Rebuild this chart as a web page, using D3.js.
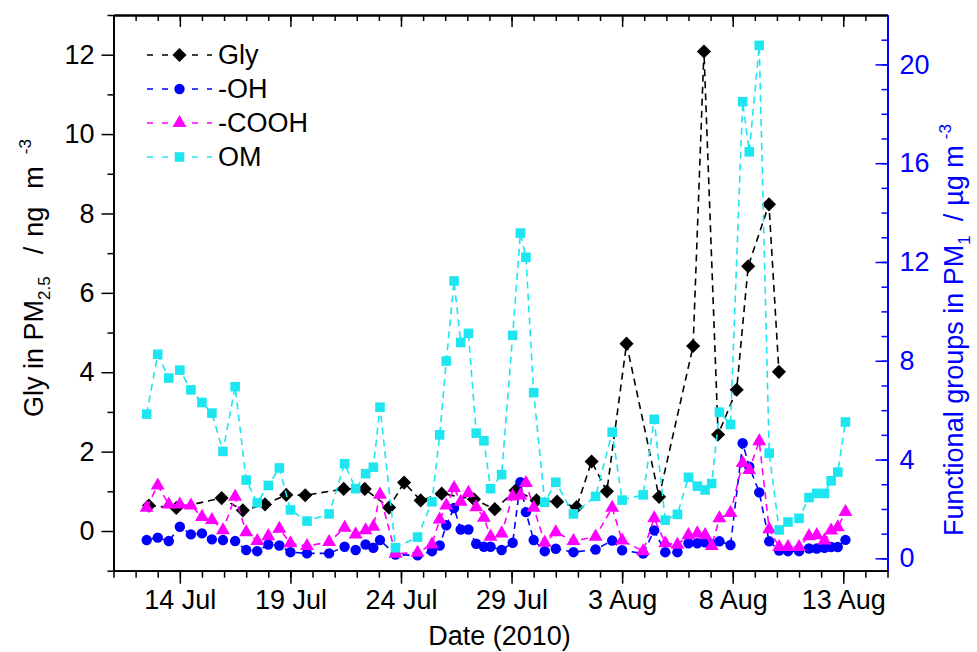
<!DOCTYPE html>
<html>
<head>
<meta charset="utf-8">
<script src="https://cdn.jsdelivr.net/npm/d3@7"></script>
<style>
  body { margin: 0; background: #fff; }
  text { font-family: "Liberation Sans", Arial, sans-serif; }
</style>
</head>
<body>
<div class="chart"></div>
<script>
// Sampling times as day of July 2010 (1 Aug = 32), functional groups + OM
const fgDays = [12.5, 13.0, 13.5, 14.0, 14.5, 15.0, 15.45, 15.95, 16.5, 17.0, 17.5, 18.0, 18.5, 19.0, 19.75, 20.75,
  21.45, 21.95, 22.4, 22.75, 23.05, 23.75, 24.75, 25.4, 25.75, 26.05, 26.4, 26.7, 27.05, 27.4, 27.75, 28.05, 28.55,
  29.05, 29.4, 29.65, 30.0, 30.5, 31.0, 31.8, 32.8, 33.55, 34.0, 34.95, 35.45, 35.95, 36.5, 37.0, 37.4, 37.75, 38.05,
  38.4, 38.9, 39.45, 39.75, 40.2, 40.65, 41.1, 41.5, 42.0, 42.45, 42.8, 43.15, 43.45, 43.75, 44.1];

// right axis, ug m-3
const ohValues = [0.74, 0.84, 0.70, 1.28, 0.97, 1.01, 0.77, 0.74, 0.70, 0.34, 0.29, 0.56, 0.52, 0.25, 0.20, 0.20,
  0.47, 0.34, 0.56, 0.43, 0.74, 0.15, 0.12, 0.29, 0.52, 1.34, 2.04, 1.17, 1.17, 0.59, 0.47, 0.47, 0.34,
  0.63, 3.08, 1.87, 0.74, 0.29, 0.39, 0.25, 0.36, 0.72, 0.33, 0.19, 1.13, 0.25, 0.25, 0.61, 0.61, 0.65, 0.58,
  0.69, 0.54, 4.66, 3.71, 2.67, 0.69, 0.32, 0.29, 0.29, 0.40, 0.40, 0.43, 0.46, 0.46, 0.75];

const coohValues = [2.05, 2.95, 2.18, 2.18, 2.14, 1.68, 1.55, 1.14, 2.49, 1.06, 0.70, 0.90, 1.20, 0.61, 0.50, 0.66,
  1.24, 0.97, 1.14, 1.28, 2.58, 0.19, 0.23, 0.56, 1.57, 2.14, 2.85, 2.29, 2.65, 2.07, 1.64, 0.88, 1.01,
  2.51, 2.55, 3.05, 2.05, 0.63, 1.06, 0.70, 0.88, 2.05, 0.72, 0.29, 1.62, 0.61, 0.55, 0.94, 1.01, 0.94, 0.50,
  1.62, 1.84, 3.86, 3.58, 4.74, 1.18, 0.46, 0.46, 0.46, 0.90, 0.94, 0.72, 1.13, 1.26, 1.88];

const omValues = [5.84, 8.26, 7.30, 7.62, 6.82, 6.31, 5.88, 4.33, 6.95, 3.17, 2.25, 2.95, 3.66, 1.96, 1.51, 1.80,
  3.83, 2.82, 3.43, 3.69, 6.12, 0.43, 0.86, 2.29, 5.00, 7.99, 11.23, 8.74, 9.11, 5.07, 4.76, 2.82, 3.39,
  9.03, 13.17, 12.19, 6.71, 2.27, 3.08, 1.80, 2.51, 5.11, 2.36, 2.57, 5.63, 1.55, 1.78, 3.28, 2.92, 2.77, 3.03,
  5.92, 5.42, 18.49, 16.46, 20.77, 4.26, 1.15, 1.47, 1.62, 2.46, 2.63, 2.63, 3.14, 3.49, 5.52];

// Glyoxal (left axis, ng m-3)
const glyDays = [12.6, 13.84, 15.89, 16.85, 17.85, 18.81, 19.67, 21.41, 22.36, 23.46, 24.14, 24.89, 25.84, 27.3,
  28.24, 29.18, 30.13, 31.06, 31.94, 32.62, 33.31, 34.2, 35.67, 37.21, 37.7, 38.34, 39.18, 39.7, 40.64, 41.09];
const glyValues = [0.64, 0.58, 0.83, 0.52, 0.67, 0.91, 0.90, 1.06, 1.06, 0.59, 1.22, 0.77, 0.94, 0.80,
  0.55, 1.02, 0.77, 0.74, 0.60, 1.75, 1.00, 4.72, 0.86, 4.66, 12.08, 2.43, 3.56, 6.67, 8.23, 4.01];

const xTickDays = [14, 19, 24, 29, 34, 39, 44];
const xTickLabels = ["14 Jul", "19 Jul", "24 Jul", "29 Jul", "3 Aug", "8 Aug", "13 Aug"];
const leftTicks = [0, 2, 4, 6, 8, 10, 12];
const rightTicks = [0, 4, 8, 12, 16, 20];

const W = 977, H = 652;
const margin = { top: 15, right: 89.5, bottom: 81.3, left: 113.5 };
const plotW = W - margin.left - margin.right;
const plotH = H - margin.top - margin.bottom;

const BLUE = "#0000ff", MAGENTA = "#ff00ff", CYAN = "#1ee6f0";
const FONT = "27px";

const day0 = new Date(2010, 6, 1).getTime();
const toDate = d => new Date(day0 + (d - 1) * 864e5);

const svg = d3.select(".chart").append("svg").attr("width", W).attr("height", H);
const g = svg.append("g").attr("transform", `translate(${margin.left},${margin.top})`);

const x = d3.scaleTime().domain([toDate(11), toDate(46)]).range([0, plotW]);
const yL = d3.scaleLinear().domain([-1, 13]).range([plotH, 0]);
const yR = d3.scaleLinear().domain([-0.5, 22]).range([plotH, 0]);

// axes
function styleAxis(sel, color) {
  sel.selectAll("path.domain").attr("stroke", color).attr("stroke-width", 1.8);
  sel.selectAll(".tick line").attr("stroke", color).attr("stroke-width", 1.5);
  sel.selectAll(".tick text").attr("fill", color).style("font-size", FONT)
    .style("font-family", '"Liberation Sans", Arial, sans-serif');
}

const minorDays = d3.timeDay.range(toDate(11), toDate(46.5));

// bottom
g.append("g").attr("transform", `translate(0,${plotH})`)
  .call(d3.axisBottom(x).tickValues(minorDays).tickSize(7).tickSizeOuter(0).tickFormat(""))
  .call(s => styleAxis(s, "#000"));
g.append("g").attr("transform", `translate(0,${plotH})`)
  .call(d3.axisBottom(x).tickValues(xTickDays.map(toDate)).tickSize(13).tickSizeOuter(0)
    .tickPadding(6).tickFormat((d, i) => xTickLabels[i]))
  .call(s => styleAxis(s, "#000"));

// top (mirror, ticks inward)
g.append("g")
  .call(d3.axisTop(x).tickValues(minorDays).tickSize(-6).tickSizeOuter(0).tickFormat(""))
  .call(s => styleAxis(s, "#000"));
g.append("g")
  .call(d3.axisTop(x).tickValues(xTickDays.map(toDate)).tickSize(-12).tickSizeOuter(0).tickFormat(""))
  .call(s => styleAxis(s, "#000"));

// left
g.append("g")
  .call(d3.axisLeft(yL).tickValues(d3.range(-1, 14, 2)).tickSize(6).tickSizeOuter(0).tickFormat(""))
  .call(s => styleAxis(s, "#000"));
g.append("g")
  .call(d3.axisLeft(yL).tickValues(leftTicks).tickSize(12).tickSizeOuter(0).tickPadding(7))
  .call(s => styleAxis(s, "#000"));

// right (blue, ticks inward)
g.append("g").attr("transform", `translate(${plotW},0)`)
  .call(d3.axisRight(yR).tickValues(d3.range(0, 22)).tickSize(-6).tickSizeOuter(0).tickFormat(""))
  .call(s => styleAxis(s, BLUE));
g.append("g").attr("transform", `translate(${plotW},0)`)
  .call(d3.axisRight(yR).tickValues(rightTicks).tickSize(-12).tickSizeOuter(0).tickPadding(12))
  .call(s => styleAxis(s, BLUE));

// axis titles
svg.append("text")
  .attr("x", margin.left + plotW / 2 - 1).attr("y", 645)
  .attr("text-anchor", "middle").style("font-size", FONT)
  .text("Date (2010)");

const lt = svg.append("text")
  .attr("transform", "translate(43,278) rotate(-90)")
  .attr("text-anchor", "middle").style("font-size", FONT);
lt.append("tspan").text("Gly in PM");
lt.append("tspan").attr("dy", 7).style("font-size", "17px").text("2.5");
lt.append("tspan").attr("dy", -7).attr("dx", 22).text("/");
lt.append("tspan").attr("dx", 10).text("ng");
lt.append("tspan").attr("dx", 18).text("m");
lt.append("tspan").attr("dy", -12).attr("dx", 12).style("font-size", "17px").text("-3");

const rt = svg.append("text")
  .attr("transform", "translate(963,330) rotate(-90)")
  .attr("text-anchor", "middle").attr("fill", BLUE).style("font-size", FONT);
rt.append("tspan").text("Functional groups in PM");
rt.append("tspan").attr("dy", 7).style("font-size", "17px").text("1");
rt.append("tspan").attr("dy", -7).attr("dx", 14).text("/");
rt.append("tspan").attr("dx", 8).text("\u00b5g m");
rt.append("tspan").attr("dy", -12).attr("dx", 6).style("font-size", "17px").text("-3");

// series
const series = [
  { name: "Gly", days: glyDays, values: glyValues, y: yL, color: "#000", shape: "diamond" },
  { name: "-OH", days: fgDays, values: ohValues, y: yR, color: BLUE, shape: "circle" },
  { name: "-COOH", days: fgDays, values: coohValues, y: yR, color: MAGENTA, shape: "triangle" },
  { name: "OM", days: fgDays, values: omValues, y: yR, color: CYAN, shape: "square" }
];

const symbolPath = {
  diamond: d3.symbol(d3.symbolSquare, 100)(),
  circle: d3.symbol(d3.symbolCircle, 85)(),
  triangle: d3.symbol(d3.symbolTriangle, 84)(),
  square: d3.symbol(d3.symbolSquare, 92)()
};
const symbolRot = { diamond: 45, circle: 0, triangle: 0, square: 0 };

const DASH = "7,5";

series.forEach(s => {
  const pts = s.days.map((d, i) => ({ date: toDate(d), v: s.values[i] }));
  const line = d3.line().x(d => x(d.date)).y(d => s.y(d.v));
  g.append("path").datum(pts)
    .attr("d", line).attr("fill", "none")
    .attr("stroke", s.color).attr("stroke-width", 1.6)
    .attr("stroke-dasharray", DASH);
  g.append("g").selectAll("path").data(pts).join("path")
    .attr("d", symbolPath[s.shape])
    .attr("transform", d => `translate(${x(d.date)},${s.y(d.v)}) rotate(${symbolRot[s.shape]})`)
    .attr("fill", s.color);
});

// legend
const legend = svg.append("g").attr("class", "legend");
series.forEach((s, i) => {
  const ly = 55 + i * 34;
  legend.append("line").attr("x1", 147).attr("x2", 212).attr("y1", ly).attr("y2", ly)
    .attr("stroke", s.color).attr("stroke-width", 1.6).attr("stroke-dasharray", "6,9");
  legend.append("path").attr("d", symbolPath[s.shape])
    .attr("transform", `translate(179.5,${ly}) rotate(${symbolRot[s.shape]})`)
    .attr("fill", s.color);
  legend.append("text").attr("x", 218).attr("y", ly).attr("dy", "0.35em")
    .style("font-size", FONT).text(s.name);
});
</script>
</body>
</html>
